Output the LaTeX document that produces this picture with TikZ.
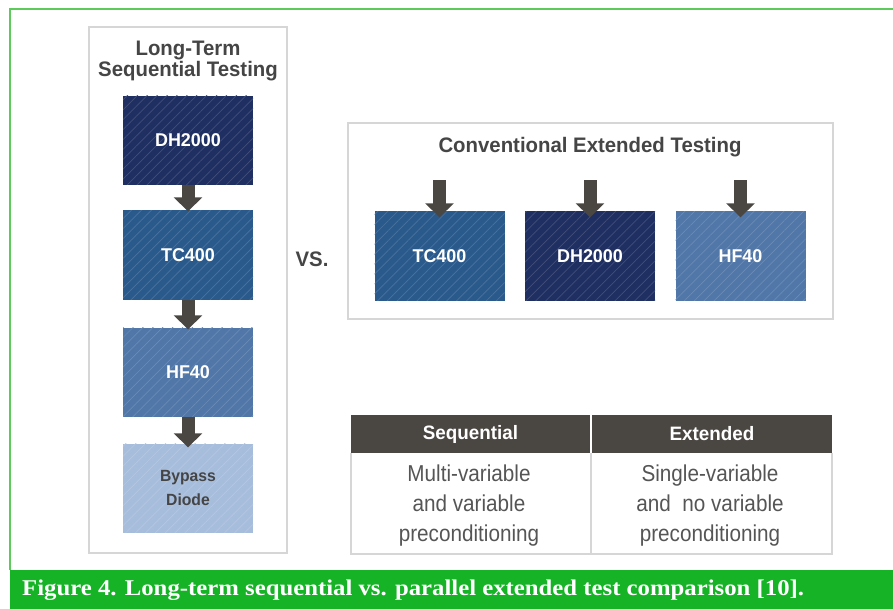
\documentclass[tikz,border=0pt]{standalone}
\usepackage{fontspec}
\setmainfont{Liberation Sans}
\newfontfamily\condsans{Liberation Sans}[FakeStretch=0.97]
\newfontfamily\narrowsans{Liberation Sans}[FakeStretch=0.9]
\newfontfamily\capserif{Liberation Serif}[FakeStretch=1.1]
\usetikzlibrary{positioning,arrows.meta,patterns.meta}

\definecolor{dhblue}{HTML}{1F2F61}
\definecolor{tcblue}{HTML}{2A5A8C}
\definecolor{hfblue}{HTML}{5077A8}
\definecolor{bpblue}{HTML}{A7BDDC}
\definecolor{arrowgray}{HTML}{4A4642}
\definecolor{titlegray}{HTML}{454545}
\definecolor{textgray}{HTML}{555555}
\definecolor{framegray}{HTML}{D6D6D6}
\definecolor{capgreen}{HTML}{15B325}
\definecolor{linegreen}{HTML}{5CCB5C}

\tikzset{
  testbox/.style={rectangle,minimum width=130pt,minimum height=89pt,inner sep=0pt,
    fill=#1,text=white,font=\condsans\bfseries\fontsize{18.5}{22}\selectfont,
    postaction={pattern={Lines[angle=45,distance=7pt,line width=0.7pt]},pattern color=#1!85!white}},
  panel/.style={draw=framegray,line width=2pt},
  bigarrow/.style={draw=arrowgray,line width=13pt,-{Triangle[width=28pt,length=14pt]}},
  paneltitle/.style={text=titlegray,align=center,font=\condsans\bfseries\fontsize{21}{21}\selectfont},
  hdrcell/.style={rectangle,fill=arrowgray,text=white,minimum height=38pt,inner sep=0pt,
    font=\condsans\bfseries\fontsize{19.4}{22}\selectfont},
  bodytext/.style={text=textgray,align=center,font=\narrowsans\fontsize{23}{30}\selectfont}
}

\begin{document}
\begin{tikzpicture}[x=1pt,y=-1pt]
\useasboundingbox (0,0) rectangle (893,609);
% frame and caption
\draw[linegreen,line width=1.5pt] (10,570) -- (10,9) -- (893,9);
\fill[capgreen] (10,570) rectangle (893,609);
\node[anchor=west,inner sep=0pt,text=white,font=\capserif\bfseries\fontsize{22.5}{24}\selectfont] (cap) at (22,590)
  {Figure 4. Long-term sequential vs. parallel extended test comparison [10].};

% long-term sequential testing
\draw[panel] (89,27) rectangle (287,553);
\node[paneltitle] (lttitle) at (188,61) {Long-Term\\Sequential Testing};
\node[testbox=dhblue] (ltdh) at (188,140.5) {DH2000};
\node[testbox=tcblue] (lttc) at (188,255) {TC400};
\node[testbox=hfblue] (lthf) at (188,372) {HF40};
\node[testbox=bpblue,text=titlegray,align=center,font=\condsans\bfseries\fontsize{16.2}{24}\selectfont] (ltbp) at (188,488) {Bypass\\Diode};
\draw[bigarrow] (ltdh.south) -- ([yshift=-1pt]lttc.north);
\draw[bigarrow] (lttc.south) -- ([yshift=-2pt]lthf.north);
\draw[bigarrow] (lthf.south) -- ([yshift=-4pt]ltbp.north);

\node[text=titlegray,font=\condsans\bfseries\fontsize{21}{24}\selectfont] (vs) at (312,259) {VS.};

% conventional extended testing
\draw[panel] (348,123) rectangle (833,319);
\node[paneltitle] (cetitle) at (590,147) {Conventional Extended Testing};
\node[testbox=tcblue] (cetc) at (439.5,256) {TC400};
\node[testbox=dhblue] (cedh) at (590,256) {DH2000};
\node[testbox=hfblue] (cehf) at (740.5,256) {HF40};
\foreach \b in {cetc,cedh,cehf}{
  \coordinate (\b top) at ([yshift=31pt]\b.north);
  \draw[bigarrow] (\b top) -- ([yshift=-6pt]\b.north);
}

% comparison table
\node[hdrcell,minimum width=239pt] (seqhd) at (470.5,434) {Sequential};
\node[hdrcell,minimum width=240pt] (exthd) at (712,434) {Extended};
\draw[framegray,line width=1.5pt] (351,453) -- (351,554) -- (832,554) -- (832,453);
\draw[framegray,line width=1.5pt] (591,453) -- (591,554);
\node[bodytext] (seqtx) at (469,506) {Multi-variable\\and variable\\preconditioning};
\node[bodytext] (exttx) at (710,506) {Single-variable\\and\ \ no variable\\preconditioning};
\end{tikzpicture}
\end{document}
